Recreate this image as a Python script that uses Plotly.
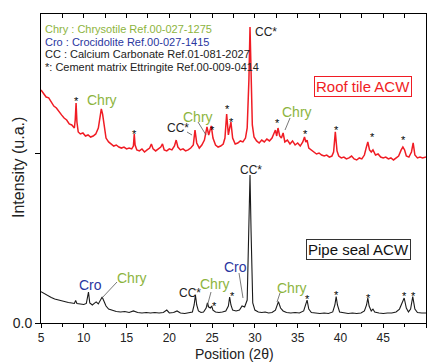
import plotly.graph_objects as go

# ---------------- data ----------------
roof_x = [5.0, 5.3, 5.6, 5.9, 6.2, 6.5, 6.8, 7.1, 7.4, 7.7, 8.0, 8.3, 8.6, 8.9, 9.0, 9.1, 9.2, 9.35,
          9.6, 9.9, 10.2, 10.5, 10.8, 11.1, 11.4, 11.7, 11.9, 12.05, 12.2, 12.4, 12.6, 12.9, 13.2, 13.5,
          13.8, 14.1, 14.4, 14.7, 15.0, 15.3, 15.6, 15.8, 15.9, 16.0, 16.2, 16.5, 16.8, 17.1, 17.4, 17.7,
          17.9, 18.1, 18.4, 18.7, 19.0, 19.2, 19.4, 19.7, 20.0, 20.3, 20.6, 20.8, 21.0, 21.3, 21.6, 21.9,
          22.2, 22.5, 22.8, 23.0, 23.2, 23.5, 23.8, 24.1, 24.4, 24.6, 24.9, 25.1, 25.4, 25.7, 26.0, 26.3,
          26.5, 26.7, 26.9, 27.05, 27.2, 27.4, 27.7, 28.0, 28.3, 28.6, 28.9, 29.1, 29.3, 29.43, 29.55,
          29.7, 29.9, 30.2, 30.5, 30.8, 31.1, 31.4, 31.7, 32.0, 32.2, 32.4, 32.55, 32.7, 32.9, 33.1, 33.3,
          33.5, 33.8, 34.1, 34.4, 34.7, 35.0, 35.3, 35.6, 35.8, 35.95, 36.1, 36.3, 36.6, 36.9, 37.2, 37.5,
          37.8, 38.1, 38.4, 38.7, 39.0, 39.2, 39.4, 39.6, 39.8, 40.1, 40.4, 40.7, 41.0, 41.3, 41.6, 41.9,
          42.2, 42.5, 42.8, 43.0, 43.2, 43.4, 43.6, 43.8, 44.1, 44.4, 44.7, 45.0, 45.3, 45.6, 45.9, 46.2,
          46.5, 46.8, 47.1, 47.3, 47.5, 47.7, 48.0, 48.3, 48.5, 48.7, 49.0, 49.3, 49.6, 50.0]
roof_y = [1.371, 1.353, 1.329, 1.324, 1.300, 1.276, 1.265, 1.241, 1.224, 1.206, 1.194, 1.171, 1.165,
          1.147, 1.194, 1.294, 1.182, 1.124, 1.112, 1.118, 1.100, 1.106, 1.094, 1.100, 1.112, 1.147,
          1.206, 1.259, 1.229, 1.147, 1.088, 1.065, 1.053, 1.041, 1.047, 1.035, 1.029, 1.035, 1.024,
          1.029, 1.024, 1.041, 1.112, 1.047, 1.018, 1.012, 1.024, 1.006, 1.018, 1.029, 1.053, 1.024,
          1.012, 1.024, 1.035, 1.053, 1.018, 1.012, 1.024, 1.018, 1.041, 1.076, 1.035, 1.018, 1.024,
          1.012, 1.018, 1.029, 1.047, 1.135, 1.059, 1.029, 1.047, 1.076, 1.153, 1.106, 1.159, 1.088,
          1.047, 1.035, 1.041, 1.053, 1.088, 1.229, 1.106, 1.147, 1.182, 1.088, 1.053, 1.059, 1.071,
          1.065, 1.088, 1.147, 1.429, 1.741, 1.429, 1.165, 1.094, 1.071, 1.059, 1.076, 1.065, 1.082,
          1.071, 1.088, 1.112, 1.135, 1.100, 1.147, 1.100, 1.088, 1.118, 1.065, 1.076, 1.053, 1.071,
          1.047, 1.059, 1.041, 1.065, 1.094, 1.065, 1.076, 1.029, 1.018, 1.006, 0.994, 1.000, 0.988,
          0.982, 0.988, 0.976, 0.982, 1.006, 1.124, 1.012, 0.982, 0.971, 0.976, 0.965, 0.971, 0.982,
          0.965, 0.959, 0.971, 0.965, 0.988, 1.029, 1.065, 1.018, 1.006, 1.018, 0.988, 0.994, 0.976,
          0.971, 0.976, 0.965, 0.971, 0.959, 0.971, 0.982, 1.018, 1.035, 1.018, 0.982, 0.976, 1.006,
          1.059, 0.988, 0.971, 0.976, 0.971, 0.976]

pipe_x = [5.0, 5.4, 5.8, 6.2, 6.6, 7.0, 7.4, 7.8, 8.2, 8.6, 8.9, 9.05, 9.2, 9.6, 10.0, 10.3, 10.45,
          10.55, 10.7, 11.0, 11.3, 11.45, 11.7, 11.95, 12.15, 12.35, 12.6, 12.9, 13.3, 13.8, 14.3, 14.8,
          15.3, 15.8, 16.3, 16.8, 17.3, 17.8, 18.3, 18.8, 19.3, 19.7, 20.0, 20.5, 20.9, 21.3, 21.8, 22.3,
          22.7, 22.9, 23.05, 23.2, 23.4, 23.7, 24.0, 24.3, 24.45, 24.6, 24.8, 24.95, 25.1, 25.4, 25.8,
          26.2, 26.6, 26.9, 27.05, 27.2, 27.4, 27.8, 28.2, 28.5, 28.8, 29.1, 29.3, 29.43, 29.55, 29.75,
          30.0, 30.4, 30.8, 31.2, 31.6, 32.0, 32.4, 32.75, 33.0, 33.3, 33.7, 34.2, 34.7, 35.2, 35.7,
          35.95, 36.1, 36.3, 36.6, 37.1, 37.6, 38.1, 38.6, 39.1, 39.35, 39.5, 39.65, 39.9, 40.4, 40.9,
          41.4, 41.9, 42.4, 42.8, 43.05, 43.2, 43.35, 43.6, 43.8, 44.0, 44.5, 45.0, 45.5, 46.0, 46.5,
          46.9, 47.2, 47.45, 47.7, 47.95, 48.2, 48.45, 48.7, 49.0, 49.5, 50.0]
pipe_y = [0.184, 0.171, 0.159, 0.150, 0.141, 0.135, 0.129, 0.124, 0.121, 0.118, 0.115, 0.132, 0.115,
          0.112, 0.109, 0.115, 0.176, 0.182, 0.118, 0.106, 0.118, 0.124, 0.112, 0.135, 0.153, 0.129,
          0.100, 0.082, 0.074, 0.068, 0.065, 0.068, 0.062, 0.071, 0.062, 0.059, 0.062, 0.059, 0.062,
          0.059, 0.062, 0.076, 0.059, 0.062, 0.071, 0.059, 0.056, 0.059, 0.065, 0.106, 0.165, 0.106,
          0.071, 0.062, 0.065, 0.088, 0.118, 0.094, 0.088, 0.100, 0.076, 0.065, 0.062, 0.065, 0.071,
          0.100, 0.153, 0.106, 0.076, 0.071, 0.076, 0.100, 0.094, 0.135, 0.547, 0.871, 0.547, 0.118,
          0.076, 0.065, 0.062, 0.065, 0.059, 0.062, 0.076, 0.126, 0.088, 0.071, 0.062, 0.059, 0.062,
          0.059, 0.071, 0.118, 0.135, 0.082, 0.062, 0.059, 0.056, 0.059, 0.056, 0.065, 0.106, 0.155,
          0.106, 0.065, 0.059, 0.056, 0.059, 0.056, 0.059, 0.071, 0.106, 0.147, 0.100, 0.071, 0.082,
          0.065, 0.059, 0.056, 0.059, 0.059, 0.065, 0.082, 0.118, 0.147, 0.088, 0.065, 0.082, 0.155,
          0.082, 0.062, 0.059, 0.059]

legend_lines = ["Chry : Chrysotile Ref.00-027-1275",
                "Cro : Crocidolite Ref.00-027-1415",
                "CC : Calcium Carbonate Ref.01-081-2027",
                "*: Cement matrix Ettringite Ref.00-009-0414"]

GREEN = "#8db43e"
BLUE = "#2a36a0"
DARK = "#222222"
RED = "#f01c24"
FONT = "Liberation Sans, Arial, sans-serif"

# pixel -> data helpers for label placement
def X(px):
    return 5 + (px - 41) / 8.555

def Y(py):
    return (323 - py) / 170

fig = go.Figure()
fig.add_trace(go.Scatter(x=roof_x, y=roof_y, mode="lines",
                         line=dict(color=RED, width=1.5), showlegend=False))
fig.add_trace(go.Scatter(x=pipe_x, y=pipe_y, mode="lines",
                         line=dict(color="#1a1a1a", width=1.1), showlegend=False))
fig.add_trace(go.Scatter(x=[None], y=[None], xaxis="x2", showlegend=False))

ann = []

def label(text, px, py, color=DARK, size=14):
    ann.append(dict(x=X(px), y=Y(py), text=text, showarrow=False,
                    font=dict(family=FONT, size=size, color=color),
                    xanchor="center", yanchor="middle"))

def star(px, py):
    label("*", px, py + 3, "#000000", 11)

# roof tile labels
star(76, 98)
label("Chry", 102, 100, GREEN, 14)
star(134, 131)
label("CC*", 178, 128, DARK, 12)
label("Chry", 198, 117, GREEN, 14)
star(212, 127)
star(227, 106)
star(231, 119)
label("CC*", 266, 32, DARK, 12)
star(277, 120)
label("Chry", 297, 112, GREEN, 14)
star(305, 131)
star(336, 127)
star(372, 134)
star(403, 137)

# pipe seal labels
label("Cro", 90, 285, BLUE, 14)
label("Chry", 132, 278, GREEN, 14)
label("CC*", 190, 293, DARK, 12)
star(214, 303)
label("Chry", 215, 284, GREEN, 14)
star(232, 293)
label("Cro", 235, 267, BLUE, 14)
label("CC*", 251, 170, DARK, 12)
label("Chry", 292, 288, GREEN, 14)
for sx, sy in [(307, 296), (336, 292), (368, 295), (404, 293), (413, 293)]:
    star(sx, sy)

# legend text block
leg_colors = [GREEN, BLUE, DARK, DARK]
for i, (t, c) in enumerate(zip(legend_lines, leg_colors)):
    ann.append(dict(x=X(43), y=Y(29.3 + 12.5 * i), text=t, showarrow=False,
                    font=dict(family=FONT, size=11, color=c),
                    xanchor="left", yanchor="middle"))

# boxed sample names
ann.append(dict(x=X(363.4), y=Y(86.2), text="Roof tile ACW", showarrow=False,
                font=dict(family=FONT, size=15, color=RED), bordercolor=RED,
                borderwidth=1, borderpad=1, xanchor="center", yanchor="middle"))
ann.append(dict(x=X(358.9), y=Y(249), text="Pipe seal ACW", showarrow=False,
                font=dict(family=FONT, size=15, color="#111111"), bordercolor="#333333",
                borderwidth=1, borderpad=1, xanchor="center", yanchor="middle"))

# axis titles (paper coordinates)
ann.append(dict(x=(235 - 41) / 385, y=(323 - 354) / 309, xref="paper", yref="paper",
                text="Position (2θ)", showarrow=False, borderpad=0,
                font=dict(family=FONT, size=14, color="#222222"),
                xanchor="center", yanchor="middle"))
ann.append(dict(x=(18 - 41) / 385, y=(323 - 168) / 309, xref="paper", yref="paper",
                text="Intensity (u.a.)", showarrow=False, textangle=-90,
                font=dict(family=FONT, size=16, color="#222222"),
                xanchor="center", yanchor="middle"))

# leader lines
shapes = []
for (a, b, c, d) in [(187, 132, 192, 135), (198, 122, 206, 135), (290, 118, 285, 130),
                     (117, 282, 102, 298), (211, 292, 207, 307), (239, 273, 243, 298),
                     (280, 293, 277, 302)]:
    shapes.append(dict(type="line", x0=X(a), y0=Y(b), x1=X(c), y1=Y(d),
                       xref="x", yref="y", line=dict(color="#555555", width=0.8)))

fig.update_layout(
    width=427, height=363,
    margin=dict(l=41, r=1, t=14, b=40),
    paper_bgcolor="white", plot_bgcolor="white",
    font=dict(family=FONT, size=14, color="#111111"),
    annotations=ann, shapes=shapes,
    xaxis=dict(range=[5, 50], dtick=5, tick0=5, ticks="outside", ticklen=4,
               tickcolor="black", showline=True, linecolor="black", linewidth=1,
               mirror=True, showgrid=False, zeroline=False,
               minor=dict(dtick=2.5, ticks="outside", ticklen=3, tickcolor="black"),
               tickfont=dict(size=12, color="#222222")),
    xaxis2=dict(range=[5, 50], overlaying="x", side="top", dtick=2.5, tick0=5,
                ticks="inside", ticklen=4, tickcolor="black", showticklabels=False,
                showline=False, showgrid=False, zeroline=False),
    yaxis=dict(range=[0, 1.8176], tickvals=[0, 1], ticktext=["0.0", ""], ticks="outside",
               ticklen=5, tickcolor="black", showline=True, linecolor="black", linewidth=1,
               mirror=True, showgrid=False, zeroline=False,
               tickfont=dict(size=14, color="#222222")),
)

fig.write_html("out.html")
